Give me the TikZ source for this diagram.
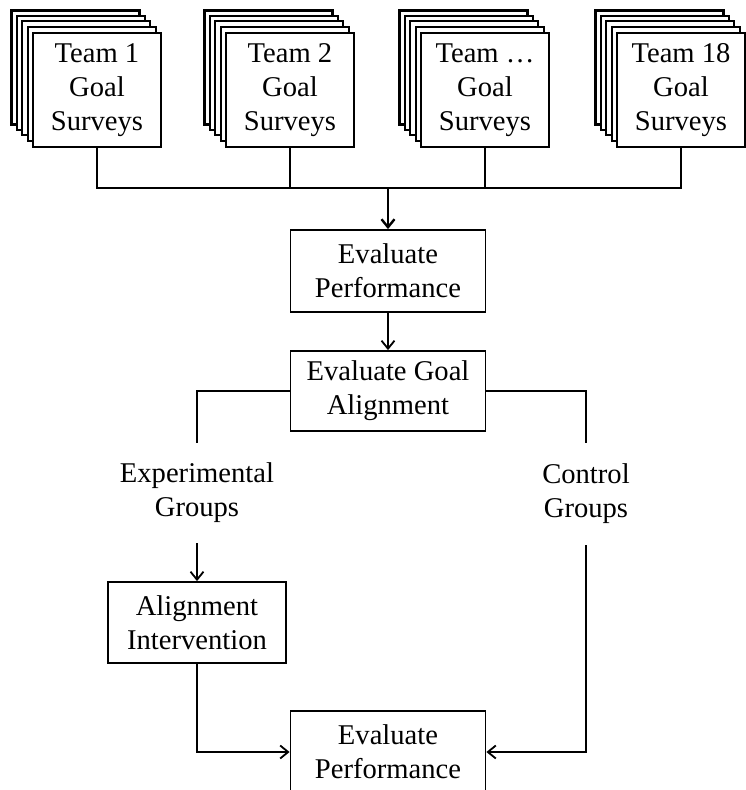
\documentclass[tikz,border=0pt]{standalone}
\usepackage{fontspec}
\setmainfont{Liberation Serif}
\usetikzlibrary{arrows.meta}

\begin{document}
\begin{tikzpicture}[x=1pt,y=-1pt,
  box/.style={draw,line width=1.8pt,fill=white,align=center,inner sep=0pt,
    font=\fontsize{28.6}{34}\selectfont},
  lbl/.style={align=center,inner sep=0pt,font=\fontsize{28.6}{34}\selectfont},
  conn/.style={line width=1.8pt},
  arr/.style={conn,-{Straight Barb[length=8pt,width=13pt]}}]
  \useasboundingbox (0,0) rectangle (745,790);

  \newcommand{\survey}[3]{
    \foreach \i in {4,3,2,1}
      \draw[line width=2.2pt,fill=white]
      (#2-64-5.4*\i,32-5.4*\i) rectangle ++(128,114);
    \node[box,line width=2.2pt,minimum width=128pt,minimum height=114pt]
      (#1) at (#2,90) {#3\\Goal\\Surveys};
  };

  \survey{s1}{97}{Team 1};
  \survey{s2}{290}{Team 2};
  \survey{s3}{485}{Team \dots};
  \survey{s18}{681}{Team 18};

  \node[box,minimum width=195pt,minimum height=82pt] (perf1) at (388,271) {Evaluate\\Performance};
  \node[box,minimum width=195pt,minimum height=80pt] (align) at (388,391) {Evaluate Goal\\Alignment};
  \node[lbl,minimum height=100pt] (exp) at (197,493) {Experimental\\Groups};
  \node[lbl,minimum height=102pt] (ctrl) at (586,494) {Control\\Groups};
  \node[box,minimum width=178pt,minimum height=81pt] (interv) at (197,622.5) {Alignment\\Intervention};
  \node[box,minimum width=195pt,minimum height=82pt] (perf2) at (388,752) {Evaluate\\Performance};

  % bus below the surveys
  \coordinate (bus) at (388,188);
  \draw[conn] (s1.south) |- (bus) -| (s18.south);
  \draw[conn] (s2.south) -- (s2.south |- bus);
  \draw[conn] (s3.south) -- (s3.south |- bus);
  \draw[arr,line width=2.4pt] (bus) -- (perf1);

  \draw[arr] (perf1) -- (align);
  \draw[conn] (align.west) -| (exp.north);
  \draw[conn] (align.east) -| (ctrl.north);
  \draw[arr] (exp.south) -- (interv.north);
  \draw[arr] (interv.south) |- (perf2.west);
  \draw[arr] (ctrl.south) |- (perf2.east);
\end{tikzpicture}
\end{document}
